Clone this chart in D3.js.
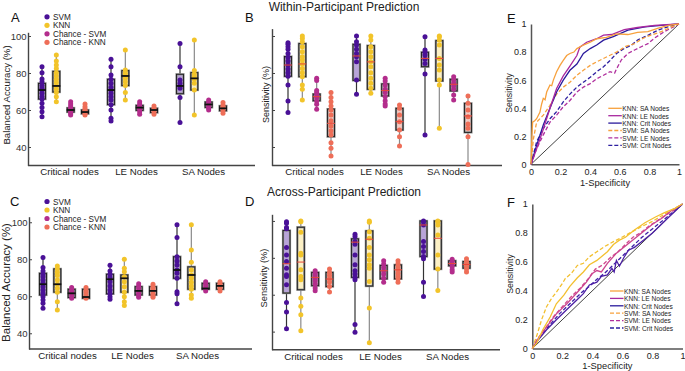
<!DOCTYPE html>
<html><head><meta charset="utf-8">
<script src="https://cdn.jsdelivr.net/npm/d3@7"></script>
<style>body{margin:0;background:#fff}svg{display:block}</style>
</head><body><svg id="c" width="685" height="371"></svg>
<script>
const categories = ["Critical nodes","LE Nodes","SA Nodes"];
const series = ["SVM","KNN","Chance - SVM","Chance - KNN"];
const yTicks = [40,60,80,100];
const rocTicks = [0,0.2,0.4,0.6,0.8,1];
const rocLabels = ["KNN: SA Nodes","KNN: LE Nodes","KNN: Crit Nodes","SVM: SA Nodes","SVM: LE Nodes","SVM: Crit Nodes"];

// Box panels: order = category-major (Critical: SVM, KNN, Ch-SVM, Ch-KNN, then LE..., SA...)
const pointsA = [
 [83.4,80.2,76.8,75.3,73.2,71.7,70.8,69,67.2,65.9,63.6,61.4,59.1,56.4],
 [89.7,86.5,84.3,82.5,80.2,78.4,76.6,74.8,73,71.2,69.4,67.2,64.5],
 [64.5,63.2,62.2,61.1,60,58.9,58,57.3],
 [63.2,61.8,60.7,59.8,58.9,58,57.3],
 [87.4,83.4,78.9,76.6,74.4,72.3,70.8,69,67.2,65.4,62.9,60,55.5,54.1],
 [92.4,81.6,79.8,78.4,77.1,75.3,73.2,69.5,65.4],
 [64.5,63.2,62.2,61.3,60.4,59.1,57.7],
 [62.2,60.9,60,58.9,57.7],
 [96,83.4,76.2,74.4,73,71.7,66.8,53.2],
 [97.8,81.3,79.5,78,76.6,74.4,70.8,57.3],
 [65.4,64.3,63,62.2,60.9,60],
 [64,62.7,61.8,60.9,59.6,58.2]
];
// [low whisker, q1, median, q3, high whisker]
const boxesA = [
 [56.4,65.9,70.8,74.4,83.4],[64.5,69.7,73,80.9,89.7],[57.3,58.9,60,61.1,64.5],[57.3,58,58.9,60,63.2],
 [54.1,62.9,70.8,76.6,87.4],[65.4,73.2,78.4,81.3,92.4],[57.7,59.8,61.3,62.5,64.5],[57.7,58.6,60,60.9,62.2],
 [53.2,68.8,73,79.3,96],[57.3,70.8,77.1,80.2,97.8],[60,61.4,63,64.3,65.4],[58.2,59.6,60.9,62.2,64]
];
const pointsB = [
 [96.4,95.5,94.2,92.8,90.6,88.5,86.5,84.3,82.2,80.2,78.2,73.5,64.9,58.6],
 [100,98.7,96.9,94.2,91.5,88.8,87,84.9,82.5,80.2,78,73.5,71.2,65.4],
 [77.1,75.9,70.5,69.4,68.1,66.7,64.9,63.1,60.4],
 [69.4,66.8,64.5,62.2,60,57.3,54.2,51.4,48.8,46.5,42.3,39.3,35.1],
 [100,96.9,95.1,92.8,90.6,88.8,86.1,76.2,68.5],
 [100,97.8,94.2,91.5,88.8,86.1,83.4,80.2,77.1,74.4,71.7,69],
 [77.1,75.7,73.5,71.2,69.4,67.2,65,63.2,62.2],
 [62.7,60.9,57.3,53.7,49.2,45.6,40.5],
 [99.6,92.4,91.2,89.7,87.4,85.2,79.5,46.5],
 [100,99.6,97.8,95.1,87.9,84.3,81.6,76.2,73.5,50.1],
 [78,76.2,74.4,73,71.2,68.1,65.4],
 [67.6,63.6,60,56.4,52.4,50.1,45.6,30.6]
];
const boxesB = [
 [58.6,78.2,84.3,88.9,96.4],[65.4,78,84.9,95.9,100],[60.4,65,67.2,68.6,77.1],[35.1,45.6,52.8,60.5,69.4],
 [68.5,76,89.2,95.5,100],[69,71.2,86,94.8,100],[62.2,67.6,70.5,74.1,77.1],[40.5,49.2,53.7,60.9,62.7],
 [46.5,83.4,87.9,91.2,99.6],[50.1,75.7,87.9,97.5,100],[65.4,70.3,73.9,76.6,78],[30.6,47.9,56.8,63.6,67.6]
];
const pointsC = [
 [80.9,75.5,73.7,71.9,70.6,68.8,67,65.2,63.4,61.6,59.8,58,56.2,53.5],
 [76.4,74.8,73,71.2,68.8,66.5,64.3,62.2,57.1,52.6],
 [64.7,63.4,62.5,61.6,60.4,58.9],
 [64.7,63.2,62.2,60.7,59.6,58.9],
 [76.8,73.7,71.9,70.1,67.9,65.6,63.4,61.3,59.8,58.4],
 [80,75.1,73.3,70.6,67.9,65.2,62.2,59.8,57.1,55],
 [66.7,65.6,64.3,62.9,61.6,60.4,59.5],
 [66.5,65.2,64,62.9,61.4,60.2,59.5],
 [98.6,91.7,81.4,79.1,76.9,74.2,72.4,69.7,62.5,61.4,56],
 [98.6,85,78.4,74.2,71.5,69.7,67.6,65.6,63.8,60.7,58.9],
 [67.9,66.5,65.2,64,62.9],
 [67.9,66.7,65.6,64.3,62.9]
];
const boxesC = [
 [53.5,60.7,66.5,72.4,80.9],[52.6,62.2,66.5,74.8,76.4],[58.9,59.3,61.6,63.8,64.7],[58.9,58.9,59.6,63.8,64.7],
 [58.4,61.3,69.2,71.9,76.8],[55,62.2,69.7,71.5,80],[59.5,60.7,62.9,65.2,66.7],[59.5,60.7,62.9,65.2,66.5],
 [56,69.7,74.2,81.4,98.6],[58.9,63.8,71.5,75.9,98.6],[62.9,63.8,64.2,67,67.9],[62.9,63.8,65.6,67,67.9]
];
const pointsD = [
 [99.6,98.8,96.4,95.7,85.6,81.6,78,74.4,70.8,69.9,65.4,55.8,50.6,41.6],
 [100,99.6,93.9,82.5,81.6,73.5,69.9,68.1,58.2,53.7,49.2,40.5],
 [73,71.7,70.4,69,67.6,65.8,63.6,62.2],
 [73.9,72.1,70.4,68.6,66.9,64.5,61.5],
 [92.8,91.5,88.8,87.4,81.6,76.2,73,71.2,69.4,68.1,43.8,39.6],
 [100,99.3,94.2,90.6,85.6,81.6,78.9,76.2,74.4,67.2,52.8,33.9],
 [78.4,76.6,74.8,73,71.2,69,66.7],
 [78.4,76.9,75.3,73.5,71.7,69.9,68.5,66.7],
 [100,99.6,97.8,88.8,86.1,83.4,80.7,79.5,66.8,59.1],
 [100,99.6,97.8,92.4,81.6,73.9,62.3],
 [79.3,78,76.6,75.1,73.5,72.3],
 [79.5,78,76.6,75.3,73.9,72.3]
];
const boxesD = [
 [41.6,60.9,76.8,94.8,99.6],[40.5,62.7,77.7,96.6,100],[62.2,64.9,69.4,72.1,73],[61.5,64.4,68.5,72.1,73.9],
 [39.6,69.4,88.5,90.3,92.8],[33.9,64.7,90.1,94.6,100],[66.7,68.6,73,75.9,78.4],[66.7,68.6,73.5,76.2,78.4],
 [59.1,80.7,97.8,100,100],[62.3,73.9,90.6,100,100],[72.3,75.7,76.9,78.4,79.3],[72.3,74.4,76.4,78,79.5]
];

// ROC curves [1-specificity, sensitivity]
const rocE_knnSA = [[0,0],[0.006,0.2],[0.011,0.3],[0.025,0.31],[0.038,0.325],[0.06,0.37],[0.072,0.43],[0.083,0.47],[0.095,0.46],[0.106,0.515],[0.128,0.565],[0.14,0.56],[0.151,0.6],[0.173,0.66],[0.196,0.705],[0.218,0.74],[0.241,0.775],[0.263,0.79],[0.29,0.8],[0.31,0.825],[0.354,0.85],[0.4,0.87],[0.444,0.895],[0.51,0.905],[0.578,0.93],[0.655,0.925],[0.72,0.94],[0.79,0.945],[0.86,0.97],[0.93,0.99],[1,1]];
const rocE_knnLE = [[0,0],[0.038,0.11],[0.083,0.25],[0.128,0.4],[0.173,0.54],[0.218,0.63],[0.263,0.7],[0.31,0.775],[0.33,0.835],[0.376,0.87],[0.444,0.895],[0.49,0.92],[0.545,0.925],[0.63,0.96],[0.72,0.975],[0.835,0.99],[1,1]];
const rocE_knnCrit = [[0,0],[0.038,0.135],[0.083,0.28],[0.128,0.4],[0.173,0.515],[0.218,0.6],[0.263,0.67],[0.31,0.715],[0.354,0.79],[0.4,0.825],[0.444,0.85],[0.49,0.885],[0.556,0.91],[0.655,0.957],[0.77,0.98],[0.88,0.99],[1,1]];
const rocE_svmSA = [[0,0],[0.016,0.18],[0.038,0.3],[0.083,0.35],[0.128,0.42],[0.173,0.5],[0.218,0.55],[0.263,0.585],[0.31,0.635],[0.354,0.67],[0.4,0.705],[0.444,0.73],[0.51,0.765],[0.578,0.8],[0.64,0.84],[0.7,0.86],[0.76,0.9],[0.81,0.92],[0.88,0.945],[0.95,0.98],[1,1]];
const rocE_svmLE = [[0,0],[0.038,0.11],[0.083,0.21],[0.128,0.3],[0.173,0.35],[0.218,0.41],[0.263,0.455],[0.31,0.515],[0.354,0.55],[0.4,0.575],[0.444,0.61],[0.49,0.635],[0.534,0.66],[0.565,0.65],[0.578,0.68],[0.61,0.743],[0.655,0.79],[0.7,0.815],[0.745,0.838],[0.79,0.86],[0.835,0.9],[0.9,0.945],[1,1]];
const rocE_svmCrit = [[0,0],[0.038,0.16],[0.083,0.255],[0.128,0.325],[0.173,0.375],[0.218,0.445],[0.263,0.5],[0.31,0.55],[0.354,0.585],[0.4,0.62],[0.444,0.66],[0.49,0.695],[0.534,0.74],[0.578,0.79],[0.63,0.826],[0.68,0.85],[0.72,0.886],[0.79,0.92],[0.86,0.957],[0.925,0.98],[1,1]];

const rocF_knnSA = [[0,0],[0.03,0.04],[0.07,0.13],[0.12,0.22],[0.16,0.31],[0.21,0.37],[0.25,0.43],[0.3,0.49],[0.34,0.53],[0.38,0.58],[0.43,0.61],[0.5,0.67],[0.54,0.72],[0.58,0.75],[0.62,0.77],[0.68,0.82],[0.75,0.87],[0.82,0.91],[0.88,0.94],[0.95,0.97],[1,1]];
const rocF_knnLE = [[0,0],[0.04,0.07],[0.095,0.15],[0.16,0.24],[0.23,0.31],[0.3,0.39],[0.36,0.46],[0.4,0.52],[0.43,0.54],[0.46,0.53],[0.5,0.59],[0.56,0.66],[0.62,0.71],[0.68,0.76],[0.74,0.81],[0.8,0.86],[0.86,0.9],[0.92,0.95],[1,1]];
const rocF_knnCrit = [[0,0],[0.04,0.06],[0.095,0.13],[0.16,0.2],[0.23,0.27],[0.3,0.34],[0.34,0.38],[0.38,0.44],[0.43,0.46],[0.46,0.5],[0.5,0.51],[0.53,0.555],[0.545,0.53],[0.56,0.61],[0.58,0.57],[0.61,0.63],[0.64,0.68],[0.68,0.7],[0.74,0.75],[0.8,0.8],[0.86,0.86],[0.92,0.92],[1,1]];
const rocF_svmSA = [[0,0],[0.03,0.09],[0.062,0.2],[0.095,0.29],[0.13,0.35],[0.16,0.39],[0.2,0.45],[0.22,0.485],[0.26,0.52],[0.3,0.575],[0.34,0.59],[0.38,0.635],[0.43,0.67],[0.48,0.705],[0.54,0.74],[0.58,0.76],[0.65,0.8],[0.72,0.84],[0.8,0.88],[0.88,0.93],[0.95,0.97],[1,1]];
const rocF_svmLE = [[0,0],[0.03,0.06],[0.08,0.13],[0.14,0.22],[0.2,0.29],[0.26,0.36],[0.32,0.42],[0.37,0.48],[0.42,0.55],[0.47,0.58],[0.52,0.63],[0.57,0.67],[0.62,0.72],[0.67,0.77],[0.72,0.8],[0.78,0.85],[0.84,0.89],[0.9,0.93],[0.95,0.96],[1,1]];
const rocF_svmCrit = [[0,0],[0.04,0.07],[0.08,0.12],[0.13,0.18],[0.18,0.24],[0.23,0.29],[0.28,0.34],[0.33,0.39],[0.38,0.43],[0.43,0.48],[0.48,0.52],[0.53,0.57],[0.58,0.62],[0.63,0.67],[0.68,0.72],[0.73,0.77],[0.79,0.82],[0.85,0.87],[0.92,0.93],[1,1]];

const FONT = '"Liberation Sans", Arial, Helvetica, sans-serif';
const ptColors = ["#4a1197","#f2c42a","#b32d8c","#ee6e58"];
const boxFill = ["#b8a4d8","#fcf0c4","#d8bad6","#f2cbc4"];
const whiskColor = ["#333","#8a8a8a","#8a8a8a","#8a8a8a"];
const svg = d3.select("#c");

function txt(g, x, y, s, size, opts={}) {
  const t = g.append("text").attr("x",x).attr("y",y).text(s)
    .attr("font-family",FONT).attr("font-size",size).attr("fill",opts.fill||"#222")
    .attr("text-anchor",opts.anchor||"start");
  if (opts.rotate) t.attr("transform",`rotate(-90,${x},${y})`);
  if (opts.central) t.attr("dominant-baseline","central");
  return t;
}

function boxPanel(o) {
  const g = svg.append("g");
  const x = d3.scaleBand().domain(categories).range(o.xRange);
  const xi = d3.scalePoint().domain(series).range([-21.5,21.5]);
  const y = d3.scaleLinear().domain(o.yDomain).range(o.yRange);
  const lab = d3.scalePoint().domain(categories).range(o.labelRange);
  g.append("line").attr("x1",o.axisX).attr("x2",o.xEnd).attr("y1",o.yRange[0]).attr("y2",o.yRange[0])
    .attr("stroke","#444").attr("stroke-width",1.4);
  const ya = g.append("g").attr("transform",`translate(${o.axisX},0)`)
    .call(d3.axisLeft(y).tickValues(yTicks).tickSizeInner(-3).tickSizeOuter(0).tickPadding(1.5)
      .tickFormat(o.showLabels ? d3.format("d") : () => ""));
  ya.select(".domain").attr("stroke","#444").attr("stroke-width",1.4);
  ya.selectAll(".tick line").attr("stroke","#444");
  ya.selectAll("text").attr("font-size",9.5).attr("fill","#333").attr("font-family",FONT);
  const xa = g.append("g").attr("transform",`translate(0,${o.yRange[0]})`)
    .call(d3.axisBottom(lab).tickSize(0).tickPadding(o.labPad));
  xa.select(".domain").remove();
  xa.selectAll("text").attr("font-size",9.7).attr("fill","#222").attr("font-family",FONT);

  o.boxes.forEach((b,i) => {
    const si = i % series.length;
    const cat = categories[Math.floor(i / series.length)];
    const cx = x(cat) + x.bandwidth()/2 + xi(series[si]);
    const [lo,q1,med,q3,hi] = b;
    g.append("line").attr("x1",cx).attr("x2",cx).attr("y1",y(lo)).attr("y2",y(hi))
      .attr("stroke",whiskColor[si]).attr("stroke-width",1.2);
    g.append("rect").attr("x",cx-3.5).attr("width",7).attr("y",y(q3)).attr("height",y(q1)-y(q3))
      .attr("fill",boxFill[si]).attr("stroke","#8d8d8d").attr("stroke-width",2.2);
    g.append("rect").attr("x",cx-3.5).attr("width",7).attr("y",y(q3)).attr("height",y(q1)-y(q3))
      .attr("fill","none").attr("stroke","#1e1e1e").attr("stroke-width",0.9);
    g.selectAll(null).data(o.points[i]).enter().append("circle")
      .attr("cx",cx).attr("cy",d => y(d)).attr("r",2.5).attr("fill",ptColors[si]);
    g.append("line").attr("x1",cx-4).attr("x2",cx+4).attr("y1",y(med)).attr("y2",y(med))
      .attr("stroke",o.medColor).attr("stroke-width",o.medWidth);
  });
  if (o.legendY !== undefined) {
    series.forEach((s,i) => {
      g.append("circle").attr("cx",47).attr("cy",o.legendY + i*8.5).attr("r",2.6).attr("fill",ptColors[i]);
      txt(g,53,o.legendY + i*8.5 + 0.5,s,8.2,{central:true});
    });
  }
  txt(g,o.yLabelX,o.yLabelY,o.yLabel,o.yLabelSize,{anchor:"middle",rotate:true,central:true});
  txt(g,o.letterX,o.letterY,o.letter,13,{fill:"#111"});
}

function rocPanel(o) {
  const g = svg.append("g");
  const x = d3.scaleLinear().domain([0,1]).range(o.xRange);
  const y = d3.scaleLinear().domain([0,1]).range(o.yRange);
  const fmt = d => (d === 0 || d === 1) ? String(d) : d.toFixed(1);
  const xa = g.append("g").attr("transform",`translate(0,${o.yRange[0]})`)
    .call(d3.axisBottom(x).tickValues(rocTicks).tickSize(0).tickPadding(4).tickFormat(fmt));
  const ya = g.append("g").attr("transform",`translate(${o.xRange[0]},0)`)
    .call(d3.axisLeft(y).tickValues(rocTicks).tickSize(0).tickPadding(4.5).tickFormat(fmt));
  [xa,ya].forEach(a => {
    a.select(".domain").attr("stroke","#555").attr("stroke-width",1.5);
    a.selectAll("text").attr("font-size",9).attr("fill","#222").attr("font-family",FONT);
  });
  g.append("line").attr("x1",x(0)).attr("y1",y(0)).attr("x2",x(1)).attr("y2",y(1))
    .attr("stroke","#111").attr("stroke-width",0.8);
  const line = d3.line().x(d => x(d[0])).y(d => y(d[1]));
  o.curves.forEach(c => {
    g.append("path").attr("d",line(c.data)).attr("fill","none").attr("stroke",c.color)
      .attr("stroke-width",1.3).attr("stroke-dasharray",c.dash ? "4,2.2" : null);
  });
  rocLabels.forEach((l,i) => {
    const ly = o.legY + i*7.4;
    g.append("line").attr("x1",o.legX).attr("x2",o.legX+13.5).attr("y1",ly).attr("y2",ly)
      .attr("stroke",o.legColors[i]).attr("stroke-width",1.3).attr("stroke-dasharray",i>=3 ? "4,2" : null);
    txt(g,o.legX+14,ly+0.3,l,6.6,{central:true});
  });
  txt(g,o.sensX,o.sensY,"Sensitivity",8.8,{anchor:"middle",rotate:true,central:true});
  txt(g,(o.xRange[0]+o.xRange[1])/2,o.specY,"1-Specificity",9.3,{anchor:"middle"});
  txt(g,o.letterX,o.letterY,o.letter,13,{fill:"#111"});
}

boxPanel({points:pointsA, boxes:boxesA, xRange:[29,236], yDomain:[30,102], yRange:[165.5,32.3],
  labelRange:[69,203], axisX:28, xEnd:255, labPad:3, showLabels:true, medColor:"#111", medWidth:1.8,
  legendY:16.8, yLabel:"Balanced Accuracy (%)", yLabelX:6.5, yLabelY:95, yLabelSize:9.6,
  letter:"A", letterX:11, letterY:22});
boxPanel({points:pointsB, boxes:boxesB, xRange:[275.25,480.75], yDomain:[30,104], yRange:[165.5,28.6],
  labelRange:[314,448], axisX:272, xEnd:502, labPad:2.5, showLabels:false, medColor:"#e8463a", medWidth:1,
  yLabel:"Sensitivity (%)", yLabelX:265.5, yLabelY:94.5, yLabelSize:9,
  letter:"B", letterX:245, letterY:22});
boxPanel({points:pointsC, boxes:boxesC, xRange:[31,232], yDomain:[31.5,103], yRange:[349,216.7],
  labelRange:[67,197], axisX:29, xEnd:252, labPad:3.5, showLabels:true, medColor:"#111", medWidth:1.8,
  legendY:201.5, yLabel:"Balanced Accuracy (%)", yLabelX:6, yLabelY:282.5, yLabelSize:11.5,
  letter:"C", letterX:10, letterY:206});
boxPanel({points:pointsD, boxes:boxesD, xRange:[273.75,479.25], yDomain:[30.2,103.6], yRange:[349.7,214.3],
  labelRange:[313,447], axisX:272, xEnd:500, labPad:3, showLabels:false, medColor:"#e8463a", medWidth:1,
  yLabel:"Sensitivity (%)", yLabelX:263.5, yLabelY:278, yLabelSize:9.3,
  letter:"D", letterX:245, letterY:206});

const legCols = ["#f7a13d","#a8289f","#2a1a9c","#f7a13d","#b0309e","#2d1fa0"];
rocPanel({xRange:[531,679], yRange:[164.3,24], legX:608.3, legY:108.3, legColors:legCols,
  sensX:509, sensY:93, specY:186, letter:"E", letterX:507, letterY:23,
  curves:[
    {data:rocE_svmCrit, color:"#2d1fa0", dash:true},
    {data:rocE_svmLE, color:"#b0309e", dash:true},
    {data:rocE_svmSA, color:"#f7a13d", dash:true},
    {data:rocE_knnCrit, color:"#2a1a9c"},
    {data:rocE_knnLE, color:"#a8289f"},
    {data:rocE_knnSA, color:"#f7a13d"}
  ]});
rocPanel({xRange:[532.3,682.5], yRange:[348.6,204], legX:610, legY:291, legColors:legCols,
  sensX:510, sensY:274, specY:368.5, letter:"F", letterX:507, letterY:207,
  curves:[
    {data:rocF_svmCrit, color:"#3d1fa6", dash:true},
    {data:rocF_svmLE, color:"#d04a8e", dash:true},
    {data:rocF_svmSA, color:"#f3c030", dash:true},
    {data:rocF_knnCrit, color:"#4c1fa5"},
    {data:rocF_knnLE, color:"#cc4590"},
    {data:rocF_knnSA, color:"#f3c030"}
  ]});

txt(svg,344,10.5,"Within-Participant Prediction",12,{anchor:"middle"});
txt(svg,344,195.5,"Across-Participant Prediction",12,{anchor:"middle"});
</script>
</body></html>
